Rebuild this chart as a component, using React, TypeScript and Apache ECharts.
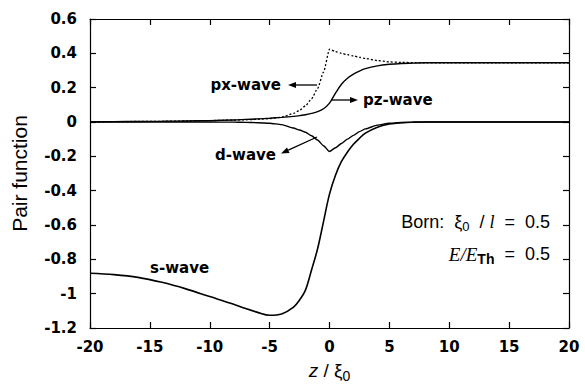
import React, { useEffect, useRef } from "react";
import * as echarts from "echarts";

// z / xi0 sample positions
const zValues = [-20, -18, -16, -14, -12, -10, -8, -7, -6, -5, -4, -3, -2.5, -2, -1.5, -1, -0.5, 0, 0.5, 1, 1.5, 2, 2.5, 3, 4, 5, 6, 7, 8, 10, 12, 14, 16, 18, 20];
const sWave = [-0.881, -0.889, -0.905, -0.934, -0.972, -1.017, -1.062, -1.087, -1.109, -1.126, -1.118, -1.078, -1.037, -0.978, -0.862, -0.74, -0.58, -0.42, -0.31, -0.23, -0.175, -0.13, -0.095, -0.065, -0.03, -0.012, -0.004, -0.001, 0, 0, 0, 0, 0, 0, 0];
const dWave = [0, 0, 0, 0, 0, 0, -0.001, -0.002, -0.004, -0.007, -0.015, -0.035, -0.047, -0.06, -0.08, -0.105, -0.138, -0.172, -0.15, -0.125, -0.1, -0.078, -0.056, -0.04, -0.018, -0.007, -0.003, -0.001, 0, 0, 0, 0, 0, 0, 0];
const pxWave = [0.001, 0.002, 0.003, 0.004, 0.006, 0.008, 0.011, 0.013, 0.016, 0.02, 0.028, 0.05, 0.068, 0.095, 0.135, 0.195, 0.29, 0.424, 0.41, 0.4, 0.392, 0.385, 0.377, 0.37, 0.358, 0.35, 0.347, 0.346, 0.345, 0.345, 0.345, 0.345, 0.345, 0.345, 0.345];
const pzWave = [0.001, 0.002, 0.003, 0.004, 0.006, 0.008, 0.012, 0.015, 0.018, 0.022, 0.027, 0.033, 0.037, 0.042, 0.05, 0.06, 0.077, 0.11, 0.168, 0.22, 0.255, 0.279, 0.297, 0.311, 0.327, 0.336, 0.341, 0.343, 0.345, 0.345, 0.345, 0.345, 0.345, 0.345, 0.345];

const xTicks = { min: -20, max: 20, step: 5 };
const yTicks = { min: -1.2, max: 0.6, step: 0.2 };

const toPairs = (ys: number[]) => zValues.map((z, i) => [z, ys[i]]);

function arrow(x1: number, y1: number, x2: number, y2: number) {
  const dx = x2 - x1;
  const dy = y2 - y1;
  const len = Math.sqrt(dx * dx + dy * dy);
  const ux = dx / len;
  const uy = dy / len;
  const headLen = 8;
  const headHalf = 3;
  const bx = x2 - ux * headLen;
  const by = y2 - uy * headLen;
  const px = -uy;
  const py = ux;
  return [
    { type: "line", shape: { x1, y1, x2: bx, y2: by }, style: { stroke: "#000", lineWidth: 1.3 }, silent: true },
    {
      type: "polygon",
      shape: { points: [[x2, y2], [bx + px * headHalf, by + py * headHalf], [bx - px * headHalf, by - py * headHalf]] },
      style: { fill: "#000" },
      silent: true,
    },
  ];
}

const labelFont = "'DejaVu Sans', sans-serif";
const sansFont = "'Liberation Sans', Arial, sans-serif";

function annot(text: string, x: number, y: number, align: string) {
  return {
    type: "text",
    x,
    y,
    silent: true,
    style: {
      text,
      fill: "#000",
      fontSize: 15,
      fontWeight: "bold",
      fontFamily: labelFont,
      align,
      textAlign: align,
      verticalAlign: "middle",
      textVerticalAlign: "middle",
    },
  };
}

export default function App() {
  const ref = useRef<HTMLDivElement>(null);
  useEffect(() => {
    const chart = echarts.init(ref.current!, null, { renderer: "svg" });
    const axisCommon = {
      type: "value",
      axisLine: { show: true, onZero: false, lineStyle: { color: "#000", width: 1.2 } },
      axisTick: { show: true, inside: true, length: 6, lineStyle: { color: "#000", width: 1.2 } },
      splitLine: { show: false },
    };
    const tickLabel = {
      color: "#000",
      fontSize: 15,
      fontWeight: "bold",
      fontFamily: labelFont,
    };
    const option: any = {
      animation: false,
      backgroundColor: "#fff",
      grid: { left: 90, right: 16, top: 19, bottom: 60 },
      xAxis: [
        {
          ...axisCommon,
          min: xTicks.min,
          max: xTicks.max,
          interval: xTicks.step,
          position: "bottom",
          axisLabel: { ...tickLabel, margin: 11 },
          name: "{i|z}{n| / ξ}{s|0}",
          nameLocation: "middle",
          nameGap: 30,
          nameTextStyle: {
            rich: {
              i: { fontSize: 19, fontStyle: "italic", fontFamily: sansFont, color: "#000", lineHeight: 24, verticalAlign: "middle" },
              n: { fontSize: 19, fontFamily: sansFont, color: "#000", lineHeight: 24, verticalAlign: "middle" },
              s: { fontSize: 14, fontFamily: sansFont, color: "#000", lineHeight: 14, padding: [10, 0, 0, 0], verticalAlign: "middle" },
            },
          },
        },
        {
          ...axisCommon,
          min: xTicks.min,
          max: xTicks.max,
          interval: xTicks.step,
          position: "top",
          axisLabel: { show: false },
        },
      ],
      yAxis: [
        {
          ...axisCommon,
          min: yTicks.min,
          max: yTicks.max,
          interval: yTicks.step,
          position: "left",
          axisLabel: { ...tickLabel, margin: 13 },
          name: "Pair function",
          nameLocation: "middle",
          nameRotate: 90,
          nameGap: 60,
          nameTextStyle: { fontSize: 21, fontFamily: sansFont, color: "#000" },
        },
        {
          ...axisCommon,
          min: yTicks.min,
          max: yTicks.max,
          interval: yTicks.step,
          position: "right",
          axisLabel: { show: false },
        },
      ],
      series: [
        {
          name: "s-wave",
          type: "line",
          data: toPairs(sWave),
          showSymbol: false,
          smooth: 0.35,
          lineStyle: { color: "#000", width: 1.6 },
        },
        {
          name: "d-wave",
          type: "line",
          data: toPairs(dWave),
          showSymbol: false,
          smooth: 0.2,
          smoothMonotone: "x",
          lineStyle: { color: "#000", width: 1.4 },
        },
        {
          name: "pz-wave",
          type: "line",
          data: toPairs(pzWave),
          showSymbol: false,
          smooth: 0.35,
          lineStyle: { color: "#000", width: 1.4 },
        },
        {
          name: "px-wave",
          type: "line",
          data: toPairs(pxWave),
          showSymbol: false,
          smooth: 0.2,
          smoothMonotone: "x",
          lineStyle: { color: "#000", width: 1.3, type: [2, 2] },
        },
      ],
      graphic: [
        ...arrow(317, 85, 288, 85),
        annot("px-wave", 281, 85, "right"),
        ...arrow(331, 100, 358, 100),
        annot("pz-wave", 363, 100, "left"),
        ...arrow(317, 137, 281, 153.5),
        annot("d-wave", 276, 155, "right"),
        annot("s-wave", 150, 268, "left"),
        {
          type: "text",
          x: 550,
          y: 222,
          silent: true,
          style: {
            text: "{a|Born:  ξ}{s|0}{a|  / }{l|l}{a|  =  0.5}",
            align: "right",
            textAlign: "right",
            verticalAlign: "middle",
            textVerticalAlign: "middle",
            rich: {
              a: { fontSize: 18, fontFamily: sansFont, fill: "#000", color: "#000", lineHeight: 22, verticalAlign: "middle" },
              l: { fontSize: 18, fontFamily: "'Liberation Serif', serif", fontStyle: "italic", fill: "#000", color: "#000", lineHeight: 22, verticalAlign: "middle" },
              s: { fontSize: 13, fontFamily: sansFont, fill: "#000", color: "#000", lineHeight: 13, padding: [9, 0, 0, 0], verticalAlign: "middle" },
            },
          },
        },
        {
          type: "text",
          x: 550,
          y: 254,
          silent: true,
          style: {
            text: "{e|E/E}{s|Th}{a|  =  0.5}",
            align: "right",
            textAlign: "right",
            verticalAlign: "middle",
            textVerticalAlign: "middle",
            rich: {
              e: { fontSize: 19, fontFamily: "'Liberation Serif', serif", fontStyle: "italic", fill: "#000", color: "#000", lineHeight: 22, verticalAlign: "middle" },
              a: { fontSize: 18, fontFamily: sansFont, fill: "#000", color: "#000", lineHeight: 22, verticalAlign: "middle" },
              s: { fontSize: 14, fontWeight: "bold", fontFamily: sansFont, fill: "#000", color: "#000", lineHeight: 14, padding: [9, 0, 0, 0], verticalAlign: "middle" },
            },
          },
        },
      ],
    };
    chart.setOption(option);
    return () => chart.dispose();
  }, []);
  return <div ref={ref} style={{ position: "absolute", left: 0, top: 0, width: 585, height: 388 }} />;
}
